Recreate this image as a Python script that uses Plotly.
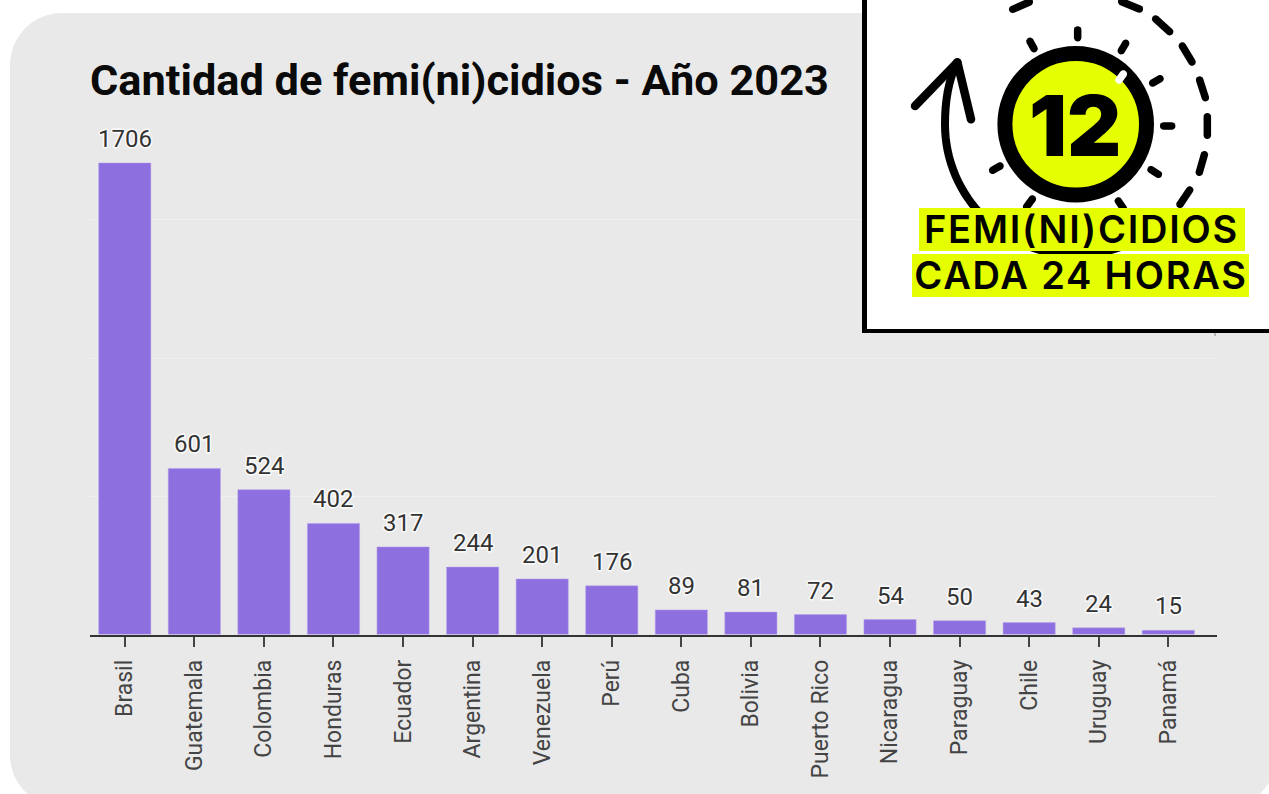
import numpy as np
import plotly.graph_objects as go

W, H = 1269, 794
paises = ["Brasil", "Guatemala", "Colombia", "Honduras", "Ecuador", "Argentina", "Venezuela", "Perú",
          "Cuba", "Bolivia", "Puerto Rico", "Nicaragua", "Paraguay", "Chile", "Uruguay", "Panamá"]
casos = [1706, 601, 524, 402, 317, 244, 201, 176, 89, 81, 72, 54, 50, 43, 24, 15]
titulo = "Cantidad de femi(ni)cidios - Año 2023"

BAR = "#8e6fe0"; GREY = "#e9e9e9"; LIME = "#e5ff00"; INK = "#000000"


def px(x): return x / W
def py(y): return 1 - y / H
def zx(x): return 860 + x / 3
def zy(y): return y / 3


def poly(points, close=True):
    d = "M" + " L".join(f"{px(x):.5f},{py(y):.5f}" for x, y in points)
    return d + (" Z" if close else "")


def capsule(x1, y1, x2, y2, w):
    a = np.arctan2(y2 - y1, x2 - x1)
    r = w / 2
    pts = []
    for t in np.linspace(-np.pi / 2, np.pi / 2, 9):
        pts.append((x2 + r * np.cos(a + t), y2 + r * np.sin(a + t)))
    for t in np.linspace(np.pi / 2, 3 * np.pi / 2, 9):
        pts.append((x1 + r * np.cos(a + t), y1 + r * np.sin(a + t)))
    return poly(pts)


shapes = []


def rect(x0, y0, x1, y1, color):
    shapes.append(dict(type="rect", xref="paper", yref="paper", x0=px(x0), x1=px(x1), y0=py(y0), y1=py(y1),
                       fillcolor=color, line_width=0, layer="above"))


def cap(z1x, z1y, z2x, z2y, w=7.5, color=INK):
    shapes.append(dict(type="path", xref="paper", yref="paper", path=capsule(zx(z1x), zy(z1y), zx(z2x), zy(z2y), w),
                       fillcolor=color, line_width=0, layer="above"))


# panel background
r = 52
corner = lambda cx, cy, a0: [(cx + r * np.cos(t), cy + r * np.sin(t)) for t in np.linspace(a0, a0 + np.pi / 2, 16)]
panel = corner(62, 65, np.pi) + [(W + 5, 13), (W + 5, 755)] + corner(1225, 755, 0) + corner(62, 755, np.pi / 2)
shapes.append(dict(type="path", xref="paper", yref="paper", path=poly(panel), fillcolor=GREY, line_width=0, layer="below"))

# inset
rect(1214, 333, 1216, 336, "#b5b5b5")
rect(862, -5, W + 5, 333, INK)
rect(867, -5, W + 5, 329, "#ffffff")

# outer dashes
for d in [(458, 28, 508, 6), (785, 5, 838, 27), (887, 57, 929, 95), (967, 138, 996, 186), (1019, 240, 1036, 293),
          (1042, 350, 1042, 406), (1033, 464, 1018, 517), (989, 570, 960, 613)]:
    cap(*d)
# inner ticks
for d in [(653, 90, 653, 113), (510, 124, 522, 146), (797, 130, 784, 152), (900, 236, 878, 249), (935, 378, 911, 378),
          (895, 523, 873, 509), (420, 498, 398, 511), (517, 597, 500, 620), (775, 603, 790, 625)]:
    cap(*d)

# big arc ending in the arrow
cx, cy, rr = 647, 373, 392
ang = np.linspace(np.radians(68), np.pi, 40)
arc = [(zx(cx + rr * np.cos(t)), zy(cy + rr * np.sin(t))) for t in ang]
arc_path = poly(arc, close=False) + f" Q{px(zx(255)):.5f},{py(zy(265)):.5f} {px(zx(288)):.5f},{py(zy(195)):.5f}"
shapes.append(dict(type="path", xref="paper", yref="paper", path=arc_path, line=dict(color=INK, width=8), layer="above"))
cap(165, 318, 292, 187, 8.5)
cap(292, 187, 333, 358, 8.5)

# clock face
shapes.append(dict(type="circle", xref="paper", yref="paper", x0=px(1075.7 - 70.8), x1=px(1075.7 + 70.8),
                   y0=py(124.3 - 70.8), y1=py(124.3 + 70.8), fillcolor=LIME, line=dict(color=INK, width=15), layer="above"))
cap(790, 222, 777, 240, 7.5, "#ffffff")

# highlights
rect(919, 208, 1245, 251, LIME)
rect(912, 254, 1249, 297, LIME)

fig = go.Figure(go.Bar(
    x=paises, y=casos, width=0.75, marker=dict(color=BAR, line=dict(color="#b7a3ec", width=0.5)),
))

ann = [
    dict(text=titulo, x=px(88), y=py(81), xanchor="left", yanchor="middle", xref="paper", yref="paper",
         font=dict(family="Roboto", size=43.3, color="#0a0a0a", weight=700)),
    dict(text="12", x=px(1075), y=py(126), xanchor="center", yanchor="middle", xref="paper", yref="paper",
         font=dict(family="Inter", size=84, color=INK, weight=900)),
    dict(text="FEMI(NI)CIDIOS", x=px(1081), y=py(229), xanchor="center", yanchor="middle", xref="paper", yref="paper",
         font=dict(family="Inter", size=38, color=INK, weight=600)),
    dict(text="CADA 24 HORAS", x=px(1081), y=py(275), xanchor="center", yanchor="middle", xref="paper", yref="paper",
         font=dict(family="Inter", size=38, color=INK, weight=600)),
]
for p, v in zip(paises, casos):
    ann.append(dict(text=str(v), x=p, y=v, xref="x", yref="y", xanchor="center", yanchor="bottom", yshift=8,
                    font=dict(family="Roboto", size=24, color="#333333")))
for a in ann:
    a.update(showarrow=False)

TOP, BASE = 100, 634.5
fig.update_layout(
    width=W, height=H, margin=dict(l=0, r=0, t=0, b=0), paper_bgcolor="#ffffff", plot_bgcolor="rgba(0,0,0,0)",
    showlegend=False, shapes=shapes, annotations=ann,
    xaxis=dict(domain=[px(90), px(1217)], range=[-0.5, 15.7], type="category", tickangle=-90, ticks="outside", ticklen=10,
               tickwidth=2, tickcolor="#444444", showline=True, linecolor="#333333", linewidth=2, showgrid=False,
               ticklabelstandoff=4, tickfont=dict(family="Roboto", size=23, color="#444444")),
    yaxis=dict(domain=[py(BASE), py(TOP)], range=[0, (BASE - TOP) / 0.2764], tickvals=[500, 1000, 1500], showticklabels=False,
               gridcolor="#f0f0f0", gridwidth=1, zeroline=False, showline=False, ticks=""),
)
post = """
document.body.style.margin='0';document.body.style.overflow='hidden';
document.querySelectorAll('.annotation-text').forEach(function(t){
  if(/FEMI|CADA/.test(t.textContent)){t.style.letterSpacing='1.8px';}
  if(/^[0-9]+$/.test(t.textContent) && t.textContent!=='12'){
    t.style.stroke='#ffffff';t.style.strokeWidth='3px';t.style.strokeOpacity='0.85';
    t.style.paintOrder='stroke';t.style.strokeLinejoin='round';
  }
});
"""
fig.write_html("out.html", config={"displayModeBar": False}, post_script=post)
